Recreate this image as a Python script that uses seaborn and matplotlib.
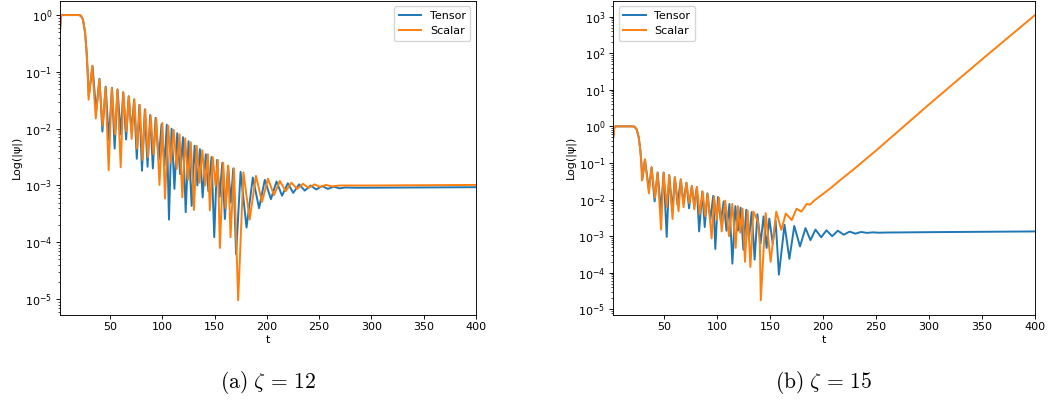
import matplotlib
matplotlib.use("Agg")
import matplotlib.pyplot as plt
import numpy as np
import pandas as pd
import seaborn as sns

# Waveform |psi(t)| for tensor and scalar perturbations.
# Each series is a list of (t, log10|psi|) points along the curve.

shared_start = [(2, -0.3), (3, -0.02), (4, 0.0), (20, 0.0), (22, -0.01), (24, -0.08),
                (26, -0.3), (27.5, -0.65), (28.5, -1.0)]

# (a) zeta = 12
tensor_a = shared_start + [
    (29.6, -1.43), (33.2, -0.90), (36.6, -1.70), (39.8, -1.12), (42.6, -2.05), (45.8, -1.26),
    (48.7, -2.20), (51.8, -1.28), (54.3, -2.35), (57.1, -1.31), (60.1, -2.10), (62.5, -1.36),
    (65.3, -2.19), (67.7, -1.43), (70.5, -2.05), (72.9, -1.49), (75.5, -2.53), (78.0, -1.58),
    (80.5, -2.74), (83.2, -1.66), (85.8, -2.67), (88.3, -1.76), (90.9, -2.70), (93.5, -1.81),
    (96.5, -2.55), (99.2, -1.92), (102.0, -2.65), (104.2, -1.93), (106.3, -3.60), (108.8, -2.00),
    (111.5, -3.06), (114.2, -2.08), (117.0, -2.80), (119.7, -2.15), (122.3, -3.47), (125.0, -2.22),
    (128.0, -3.36), (130.8, -2.30), (133.5, -3.00), (135.9, -2.36), (138.5, -3.21), (141.5, -2.45),
    (144.0, -3.10), (147.0, -2.50), (149.6, -3.91), (152.3, -2.55), (154.8, -3.20), (157.3, -2.60),
    (159.8, -3.59), (162.8, -2.66), (165.5, -3.30), (167.8, -2.70), (170.5, -4.21), (174.8, -2.76),
    (180.5, -3.74), (186.5, -2.86), (192.5, -3.40), (198.0, -2.90), (203.8, -3.24), (209.2, -2.93),
    (214.5, -3.18), (220.0, -2.96), (225.2, -3.13), (230.8, -2.98), (236.2, -3.09), (241.8, -3.00),
    (247.2, -3.07), (252.8, -3.01), (258.3, -3.06), (263.8, -3.02), (269.3, -3.05), (275.0, -3.035),
    (285.0, -3.04), (400.0, -3.03),
]

scalar_a = shared_start + [
    (29.4, -1.49), (32.8, -0.89), (36.3, -1.82), (39.6, -1.13), (42.8, -1.95), (45.6, -1.27),
    (48.6, -2.73), (51.6, -1.28), (54.6, -2.10), (57.0, -1.31), (60.1, -2.68), (62.6, -1.36),
    (65.6, -2.05), (68.0, -1.43), (70.6, -2.18), (73.2, -1.48), (75.8, -2.35), (78.4, -1.58),
    (81.0, -2.55), (83.6, -1.66), (86.2, -2.50), (88.8, -1.77), (91.5, -2.45), (94.2, -1.82),
    (97.2, -2.99), (100.0, -1.90), (102.5, -3.23), (105.6, -1.95), (108.0, -2.60), (110.8, -2.02),
    (113.7, -2.71), (116.4, -2.10), (119.1, -3.21), (121.8, -2.17), (124.5, -2.90), (127.2, -2.24),
    (130.2, -3.43), (132.8, -2.30), (135.5, -2.95), (138.2, -2.38), (141.0, -3.00), (143.5, -2.45),
    (145.4, -3.44), (148.2, -2.50), (150.8, -3.00), (153.0, -2.55), (155.0, -4.10), (158.2, -2.60),
    (160.5, -3.40), (163.0, -2.65), (165.2, -3.91), (168.5, -2.70), (172.5, -5.02), (177.5, -2.77),
    (183.5, -3.60), (189.5, -2.83), (195.3, -3.29), (201.0, -2.88), (206.8, -3.17), (212.3, -2.92),
    (218.0, -3.10), (223.4, -2.95), (229.0, -3.06), (234.5, -2.97), (240.0, -3.04), (245.5, -2.98),
    (251.0, -3.025), (256.5, -2.99), (262.0, -3.015), (270.0, -3.0), (300.0, -3.0), (400.0, -2.99),
]

# (b) zeta = 15
tensor_b = shared_start + [
    (29.4, -1.45), (31.9, -0.91), (35.5, -1.72), (38.1, -1.12), (41.0, -2.05), (43.8, -1.26),
    (47.0, -2.30), (49.5, -1.26), (52.4, -3.02), (54.8, -1.33), (57.8, -2.30), (60.1, -1.39),
    (62.6, -2.14), (65.7, -1.45), (68.2, -2.10), (71.0, -1.54), (73.5, -2.24), (76.1, -1.63),
    (78.4, -2.15), (80.8, -1.66), (83.0, -2.87), (86.0, -1.78), (88.3, -2.75), (90.8, -1.83),
    (93.6, -2.55), (96.3, -1.90), (98.3, -3.35), (100.8, -1.93), (103.5, -2.60), (106.2, -2.05),
    (108.8, -2.85), (111.6, -2.12), (114.4, -3.75), (117.2, -2.18), (119.6, -2.85), (122.2, -2.22),
    (124.8, -3.37), (127.5, -2.28), (130.0, -3.10), (132.6, -2.34), (135.4, -3.64), (138.0, -2.40),
    (141.0, -3.20), (143.8, -2.46), (146.7, -3.32), (149.2, -2.52), (152.5, -3.20), (155.2, -2.58),
    (158.3, -4.05), (163.6, -2.69), (168.2, -3.62), (172.8, -2.72), (178.2, -3.28), (183.4, -2.78),
    (188.1, -3.11), (192.8, -2.82), (198.2, -3.03), (203.2, -2.84), (208.6, -3.00), (213.9, -2.85),
    (219.5, -2.96), (225.1, -2.875), (230.5, -2.93), (235.9, -2.885), (241.5, -2.91), (247.0, -2.895),
    (252.5, -2.905), (260.0, -2.90), (300.0, -2.89), (400.0, -2.87),
]

scalar_b = shared_start + [
    (29.0, -1.48), (31.8, -0.90), (35.6, -1.83), (38.1, -1.12), (41.3, -1.95), (43.8, -1.27),
    (47.1, -2.82), (49.4, -1.27), (52.5, -2.20), (54.7, -1.33), (57.9, -2.53), (60.1, -1.39),
    (63.6, -2.32), (65.8, -1.45), (68.3, -2.21), (71.0, -1.54), (73.7, -2.10), (76.2, -1.63),
    (78.5, -2.27), (81.0, -1.66), (83.5, -2.40), (86.3, -1.78), (88.8, -2.45), (91.0, -1.84),
    (94.8, -3.06), (97.2, -1.92), (99.6, -2.55), (101.8, -1.95), (104.3, -2.87), (107.6, -2.03),
    (111.2, -3.00), (114.3, -2.12), (117.5, -3.32), (119.6, -2.18), (121.8, -2.90), (124.0, -2.25),
    (126.3, -3.70), (128.8, -2.30), (131.4, -3.84), (134.2, -2.33), (138.5, -2.60), (140.3, -3.20),
    (141.2, -4.75), (145.8, -2.37), (150.5, -3.70), (155.8, -2.33), (160.6, -2.83), (164.8, -2.38),
    (170.4, -2.56), (175.0, -2.25), (179.5, -2.33), (184.5, -2.12), (187.5, -2.14), (192.0, -2.02),
    (197.5, -1.90), (207.0, -1.69), (216.5, -1.46), (229.0, -1.17), (250.0, -0.66), (300.0, 0.60),
    (350.0, 1.83), (400.0, 3.04),
]

labels = ["Tensor", "Scalar"]
colors = ["#1f77b4", "#ff7f0e"]
captions = [r"$\mathrm{(a)}\ \zeta\,=\,12$", r"$\mathrm{(b)}\ \zeta\,=\,15$"]
legend_locs = ["upper right", "upper left"]

plt.rcParams.update({
    "font.size": 8,
    "axes.linewidth": 0.65,
    "xtick.major.size": 2.8, "ytick.major.size": 2.8,
    "xtick.major.width": 0.65, "ytick.major.width": 0.65,
    "xtick.minor.size": 1.6, "ytick.minor.size": 1.6,
    "xtick.minor.width": 0.5, "ytick.minor.width": 0.5,
    "xtick.major.pad": 2.8, "ytick.major.pad": 2.8,
    "legend.fontsize": 8,
})


def frame(points, name):
    arr = np.array(points, dtype=float)
    return pd.DataFrame({"t": arr[:, 0], "psi": 10.0 ** arr[:, 1], "series": name})


fig = plt.figure(figsize=(10.5, 4.04), dpi=100)
ax_a = fig.add_axes([0.0571, 0.2215, 0.3962, 0.7765])
ax_b = fig.add_axes([0.5841, 0.2215, 0.4016, 0.7765])

panels = [(ax_a, tensor_a, scalar_a), (ax_b, tensor_b, scalar_b)]
for i, (ax, tens, scal) in enumerate(panels):
    df = pd.concat([frame(tens, labels[0]), frame(scal, labels[1])], ignore_index=True)
    sns.lineplot(data=df, x="t", y="psi", hue="series", palette=colors,
                 hue_order=labels, linewidth=1.4, ax=ax, estimator=None, sort=False)
    ax.set_yscale("log")
    ax.set_xlim(2, 400)
    ax.set_xticks([50, 100, 150, 200, 250, 300, 350, 400])
    ax.set_xlabel("t", labelpad=2)
    ax.set_ylabel("Log(|ψ|)", labelpad=2)
    ax.legend(loc=legend_locs[i], title=None)
    cx = (ax.get_position().x0 + ax.get_position().x1) / 2
    fig.text(cx, 0.052, captions[i], ha="center", va="center", fontsize=15.5,
             math_fontfamily="cm")

fig.savefig("out.png", dpi=100)
